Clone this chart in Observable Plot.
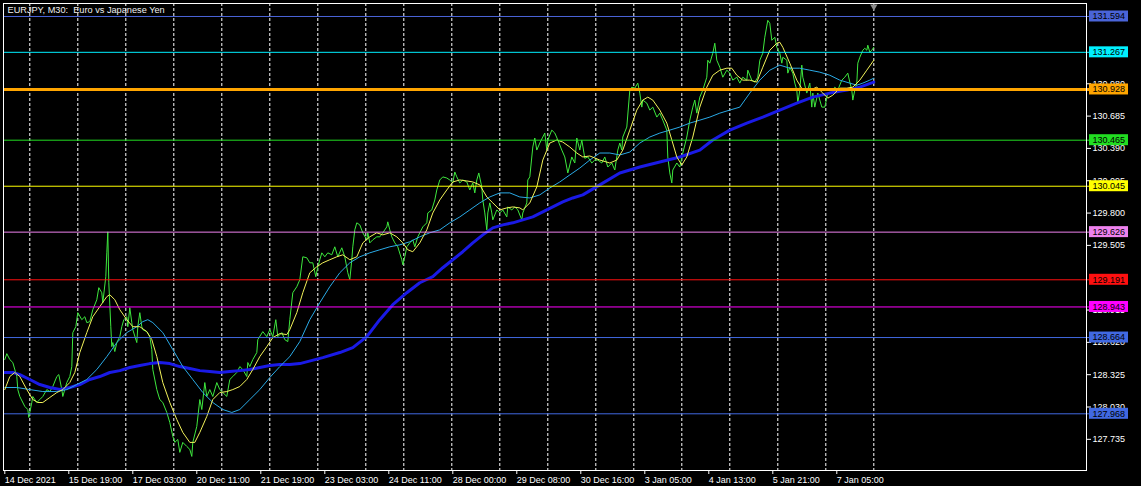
<!DOCTYPE html>
<html>
<head>
<meta charset="utf-8">
<script src="https://cdn.jsdelivr.net/npm/d3@7"></script>
<script src="https://cdn.jsdelivr.net/npm/@observablehq/plot@0.6"></script>
<style>
  html, body { margin: 0; padding: 0; background: #000; }
  #chart svg { display: block; }
</style>
</head>
<body>
<div id="chart"></div>
<script>
// ---- data (x = M30 bar number counted from 15 Dec 2021 00:00, y = price) ----
const titleText = "EURJPY, M30:\u00a0 Euro vs Japanese Yen";

// day-start bars (vertical dashed grid)
const gridBars = [0, 48, 96, 144, 192, 240, 288, 336, 374, 422, 470, 518, 566, 604, 652, 700, 748, 796, 844];

// time-axis labels
const xLabelBars = [-26, 38, 102, 166, 230, 294, 358, 422, 486, 550, 614, 678, 742, 806];
const xLabelTexts = ["14 Dec 2021", "15 Dec 19:00", "17 Dec 03:00", "20 Dec 11:00", "21 Dec 19:00",
  "23 Dec 03:00", "24 Dec 11:00", "28 Dec 00:00", "29 Dec 08:00", "30 Dec 16:00",
  "3 Jan 05:00", "4 Jan 13:00", "5 Jan 21:00", "7 Jan 05:00"];

// price-axis ticks
const yTickValues = [130.980, 130.685, 130.390, 130.095, 129.800, 129.505, 128.915, 128.620, 128.325, 128.030, 127.735];

// horizontal levels
const levelValues = [131.594, 131.267, 130.928, 130.465, 130.045, 129.626, 129.191, 128.943, 128.664, 127.968];

// close price
const price = [[-25,128.463],[-23,128.517],[-20,128.463],[-17,128.436],[-13,128.308],[-12,128.189],[-10,128.126],[-5,128.035],[-2,128.007],[-1,127.935],[2,128.071],[3,128.126],[7,128.071],[10,128.098],[13,128.126],[17,128.189],[20,128.171],[23,128.217],[27,128.308],[29,128.326],[32,128.189],[33,128.126],[37,128.253],[40,128.308],[42,128.399],[43,128.709],[46,128.763],[48,128.891],[52,128.827],[55,128.854],[57,128.800],[60,128.809],[63,128.918],[67,129.009],[69,129.119],[72,129.073],[73,128.982],[76,129.219],[77,129.437],[78,129.629],[79,129.164],[81,128.763],[82,128.581],[83,128.618],[85,128.536],[87,128.618],[90,128.672],[92,128.763],[94,128.827],[97,128.854],[98,128.763],[100,128.936],[102,128.800],[103,128.736],[107,128.618],[108,128.763],[110,128.891],[112,128.763],[113,128.736],[117,128.718],[120,128.672],[122,128.554],[123,128.372],[127,128.189],[130,128.098],[133,128.071],[137,127.980],[140,127.889],[143,127.762],[145,127.707],[148,127.734],[150,127.616],[153,127.707],[157,127.670],[160,127.643],[162,127.579],[163,127.707],[167,127.853],[170,128.098],[172,128.007],[175,128.253],[177,128.126],[180,128.189],[183,128.126],[187,128.253],[190,128.189],[193,128.162],[197,128.126],[200,128.281],[203,128.308],[207,128.345],[210,128.399],[213,128.372],[217,128.308],[218,128.436],[220,128.399],[223,128.463],[227,128.527],[228,128.645],[233,128.718],[237,128.672],[240,128.736],[243,128.672],[246,128.827],[248,128.672],[252,128.709],[255,128.645],[258,128.627],[260,128.827],[263,129.073],[267,129.128],[270,129.191],[273,129.401],[277,129.392],[280,129.346],[283,129.346],[286,129.219],[288,129.310],[292,129.437],[295,129.401],[298,129.437],[302,129.419],[305,129.492],[308,129.401],[312,129.483],[315,129.401],[318,129.255],[320,129.191],[322,129.374],[323,129.492],[325,129.647],[327,129.711],[330,129.692],[333,129.620],[337,129.556],[338,129.620],[340,129.528],[343,129.556],[347,129.583],[350,129.583],[353,129.620],[357,129.674],[358,129.720],[360,129.647],[362,129.583],[365,129.528],[368,129.492],[372,129.374],[373,129.328],[375,129.401],[377,129.492],[380,129.528],[383,129.556],[385,129.492],[388,129.583],[390,129.620],[393,129.674],[397,129.711],[398,129.801],[402,129.829],[405,129.920],[407,130.011],[410,130.102],[413,130.130],[417,130.120],[420,130.102],[423,130.075],[425,130.175],[427,130.130],[430,130.075],[433,130.102],[437,130.084],[440,130.011],[443,130.075],[445,129.984],[447,130.102],[449,130.166],[452,130.038],[453,129.920],[455,129.801],[457,129.647],[458,129.801],[460,129.893],[462,129.801],[463,129.738],[467,129.829],[470,129.801],[473,129.829],[477,129.765],[478,129.856],[482,129.829],[485,129.856],[488,129.829],[492,129.738],[493,129.801],[497,129.893],[498,130.102],[500,130.130],[503,130.403],[505,130.485],[507,130.375],[510,130.439],[513,130.494],[515,130.530],[517,130.375],[518,130.467],[522,130.557],[525,130.530],[528,130.467],[532,130.375],[535,130.312],[538,130.166],[542,130.312],[545,130.257],[547,130.485],[550,130.375],[552,130.467],[555,130.300],[558,130.312],[562,130.257],[565,130.284],[568,130.284],[572,130.257],[575,130.312],[578,130.220],[582,130.257],[585,130.193],[588,130.375],[590,130.439],[592,130.375],[593,130.494],[597,130.585],[600,130.922],[602,130.949],[605,130.940],[608,130.986],[610,130.895],[612,130.767],[613,130.831],[617,130.803],[620,130.740],[623,130.767],[627,130.676],[630,130.712],[633,130.648],[637,130.557],[638,130.312],[640,130.166],[642,130.075],[643,130.193],[647,130.257],[650,130.220],[653,130.348],[657,130.494],[660,130.648],[663,130.767],[665,130.831],[667,130.712],[670,130.858],[673,130.922],[677,131.040],[678,131.195],[680,131.168],[683,131.259],[685,131.350],[687,131.195],[690,131.131],[693,131.040],[697,131.104],[700,131.077],[703,131.013],[707,131.040],[710,130.986],[713,131.040],[717,131.013],[718,131.104],[722,131.013],[725,130.995],[728,131.040],[730,131.195],[733,131.259],[735,131.405],[738,131.559],[740,131.532],[742,131.377],[745,131.405],[747,131.313],[750,131.259],[752,131.168],[753,131.222],[757,131.195],[758,131.077],[760,131.131],[763,131.077],[765,130.986],[767,130.922],[768,130.803],[770,130.922],[772,131.150],[773,131.040],[777,130.895],[780,130.986],[782,130.767],[783,130.895],[785,130.767],[788,130.895],[792,130.767],[795,130.767],[798,130.895],[802,130.895],[805,130.949],[808,130.922],[812,131.013],[815,131.040],[818,131.077],[820,130.995],[822,130.922],[823,130.831],[825,130.922],[827,130.986],[828,131.168],[830,131.222],[833,131.286],[835,131.304],[837,131.286],[838,131.332],[840,131.268],[842,131.286],[844,131.313]];

// fast moving average
const maFast = [[-25,128.189],[-20,128.308],[-15,128.345],[-10,128.308],[-3,128.189],[3,128.098],[8,128.071],[13,128.071],[20,128.117],[27,128.162],[33,128.189],[40,128.253],[45,128.345],[50,128.527],[57,128.709],[63,128.854],[70,128.946],[77,129.037],[80,129.055],[85,129.009],[90,128.918],[97,128.827],[103,128.763],[110,128.763],[117,128.718],[122,128.645],[127,128.490],[133,128.253],[140,128.071],[147,127.916],[153,127.798],[160,127.707],[165,127.707],[170,127.798],[177,127.944],[183,128.098],[190,128.162],[197,128.171],[203,128.189],[210,128.217],[217,128.281],[223,128.372],[230,128.490],[237,128.581],[243,128.663],[250,128.700],[257,128.691],[260,128.736],[267,128.891],[273,129.073],[280,129.255],[287,129.310],[293,129.346],[300,129.374],[307,129.401],[313,129.419],[320,129.374],[327,129.401],[333,129.528],[340,129.583],[347,129.620],[353,129.601],[360,129.620],[367,129.583],[373,129.528],[378,129.465],[383,129.447],[390,129.528],[397,129.647],[403,129.801],[410,129.920],[417,130.011],[423,130.084],[430,130.102],[437,130.093],[443,130.084],[450,130.057],[457,129.947],[463,129.893],[470,129.829],[477,129.847],[483,129.856],[490,129.847],[493,129.829],[500,129.893],[507,130.038],[513,130.284],[520,130.439],[527,130.467],[533,130.448],[540,130.403],[547,130.348],[553,130.312],[560,130.321],[570,130.284],[580,130.257],[587,130.284],[593,130.375],[600,130.557],[607,130.740],[613,130.831],[618,130.858],[623,130.831],[630,130.740],[637,130.621],[642,130.467],[647,130.312],[652,130.239],[657,130.312],[663,130.494],[670,130.767],[677,130.949],[683,131.058],[690,131.104],[697,131.122],[702,131.122],[707,131.058],[713,131.013],[720,131.013],[727,130.995],[733,131.131],[740,131.286],[747,131.350],[750,131.359],[753,131.313],[760,131.168],[767,131.013],[773,130.922],[780,130.922],[787,130.949],[793,130.895],[798,130.849],[803,130.876],[810,130.940],[817,130.940],[823,130.949],[830,131.013],[837,131.104],[844,131.195]];

// medium moving average
const maMid = [[-25,128.208],[-13,128.208],[0,128.189],[13,128.171],[27,128.171],[37,128.189],[47,128.235],[57,128.281],[67,128.372],[77,128.490],[87,128.618],[97,128.709],[107,128.763],[113,128.809],[118,128.827],[123,128.800],[133,128.709],[143,128.554],[153,128.399],[163,128.281],[173,128.162],[183,128.071],[193,128.007],[202,127.980],[210,128.007],[220,128.098],[230,128.189],[240,128.299],[250,128.399],[260,128.490],[270,128.627],[280,128.827],[290,128.982],[300,129.128],[310,129.255],[320,129.346],[330,129.401],[340,129.437],[350,129.465],[360,129.492],[370,129.510],[380,129.538],[390,129.583],[400,129.620],[410,129.647],[420,129.711],[430,129.765],[440,129.829],[450,129.893],[460,129.947],[470,129.984],[480,129.984],[490,129.947],[500,129.938],[510,129.966],[520,130.029],[530,130.084],[540,130.148],[550,130.211],[560,130.284],[570,130.348],[580,130.348],[590,130.330],[600,130.357],[610,130.439],[620,130.494],[630,130.530],[640,130.557],[650,130.585],[660,130.621],[670,130.648],[680,130.676],[690,130.712],[700,130.740],[710,130.767],[720,130.895],[730,131.013],[740,131.104],[750,131.150],[760,131.122],[770,131.122],[780,131.104],[790,131.086],[800,131.058],[810,131.013],[820,130.986],[827,130.967],[833,130.986],[840,131.013],[844,131.031]];

// slow moving average
const maSlow = [[-25,128.345],[-17,128.345],[-10,128.326],[0,128.281],[10,128.235],[20,128.208],[30,128.189],[40,128.208],[50,128.235],[60,128.281],[70,128.308],[80,128.345],[90,128.362],[100,128.390],[110,128.408],[120,128.426],[130,128.436],[140,128.426],[150,128.399],[160,128.381],[170,128.362],[180,128.353],[190,128.345],[200,128.353],[210,128.362],[220,128.372],[230,128.390],[240,128.408],[250,128.417],[260,128.417],[270,128.426],[293,128.481],[310,128.527],[323,128.572],[337,128.672],[350,128.827],[363,128.964],[377,129.073],[390,129.164],[403,129.219],[413,129.301],[423,129.374],[433,129.447],[443,129.528],[453,129.601],[463,129.665],[473,129.692],[483,129.711],[493,129.738],[503,129.765],[513,129.811],[523,129.856],[533,129.902],[543,129.938],[553,129.966],[570,130.057],[590,130.166],[610,130.220],[630,130.266],[650,130.312],[670,130.375],[683,130.467],[700,130.557],[717,130.621],[733,130.676],[750,130.740],[767,130.803],[783,130.858],[800,130.895],[817,130.922],[830,130.949],[844,130.995]];

// ---- styles ----
const levelColors = ["#4a64d8", "#00f0ff", "#ffa500", "#22dd22", "#ffff00", "#ee82ee", "#ff1010", "#ff00ff", "#4169e1", "#4169e1"];
const X_MIN = -26.3, X_MAX = 1056.7;
const Y_MIN = 127.4505, Y_MAX = 131.7126;
const PX = 1 / 109.57; // price per pixel

const levels = levelValues.map((value, i) => ({value, color: levelColors[i]}));
const xLabelMap = new Map(xLabelBars.map((b, i) => [b, xLabelTexts[i]]));
const lastBar = price[price.length - 1][0];
const font = "'Liberation Sans', Arial, sans-serif";

const chart = Plot.plot({
  width: 1141,
  height: 486,
  marginLeft: 3,
  marginRight: 55,
  marginTop: 3,
  marginBottom: 16,
  x: {domain: [X_MIN, X_MAX], axis: null},
  y: {domain: [Y_MIN, Y_MAX], axis: null},
  style: {background: "#000", fontFamily: font, fontSize: "9px", color: "white"},
  marks: [
    Plot.ruleX(gridBars, {x: d => d, stroke: "#ffffff", strokeDasharray: "3,2", strokeWidth: 1}),
    Plot.line(price, {x: d => d[0], y: d => d[1], stroke: "#3ee83e", strokeWidth: 1}),
    Plot.line(maSlow, {x: d => d[0], y: d => d[1], stroke: "#1a1ae6", strokeWidth: 3}),
    Plot.line(maMid, {x: d => d[0], y: d => d[1], stroke: "#2aaae6", strokeWidth: 1}),
    Plot.line(maFast, {x: d => d[0], y: d => d[1], stroke: "#f2f25a", strokeWidth: 1}),
    Plot.ruleY(levels.filter(d => d.color !== "#ffa500"), {y: "value", stroke: d => d.color, strokeWidth: 1, x1: () => X_MIN, x2: () => X_MAX + 3}),
    Plot.ruleY(levels.filter(d => d.color === "#ffa500"), {y: "value", stroke: d => d.color, strokeWidth: 3, x1: () => X_MIN, x2: () => X_MAX + 3}),
    Plot.frame({stroke: "white"}),
    Plot.axisX(xLabelBars, {anchor: "bottom", tickSize: 4, tickPadding: 2, tickFormat: d => xLabelMap.get(d), textAnchor: "start", dx: 1, color: "white", fontSize: 9, label: null}),
    Plot.axisY(yTickValues, {anchor: "right", tickSize: 4, tickPadding: 2, tickFormat: d => d.toFixed(3), color: "white", fontSize: 9, label: null}),
    Plot.rect(levels, {x1: () => X_MAX + 3, x2: () => X_MAX + 42, y1: d => d.value - 5.5 * PX, y2: d => d.value + 5.5 * PX, fill: d => d.color}),
    Plot.text(levels, {y: "value", text: d => d.value.toFixed(3), frameAnchor: "right", dx: 6, textAnchor: "start", fill: "black", fontSize: 9}),
    Plot.text([titleText], {text: d => d, frameAnchor: "top-left", dx: 4, dy: 3, textAnchor: "start", lineAnchor: "top", fill: "#f0f0f0", fontSize: 9.2}),
    Plot.dot([lastBar], {x: d => d, frameAnchor: "top", dy: 3, symbol: "triangle2", r: 3.5, rotate: 180, fill: "#8c8c8c", stroke: "none"})
  ]
});
document.getElementById("chart").appendChild(chart);
</script>
</body>
</html>
